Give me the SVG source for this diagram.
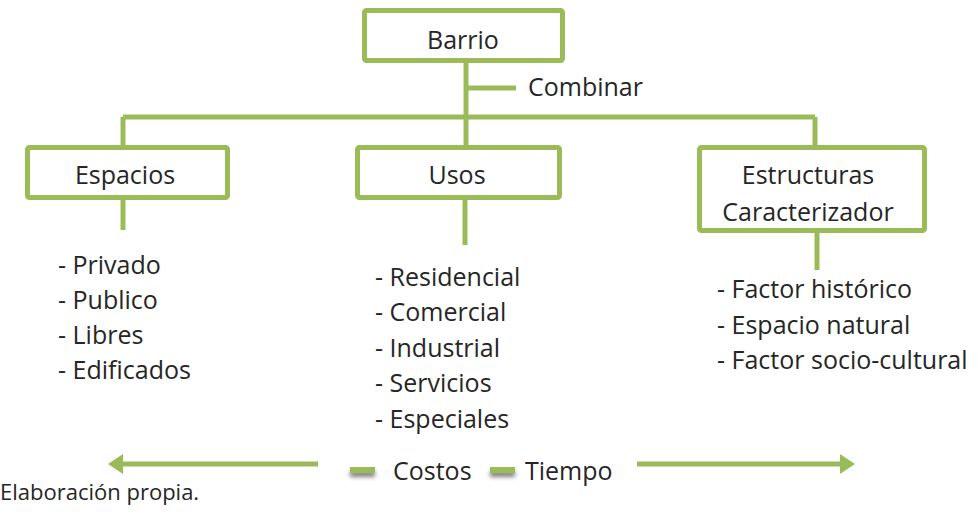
<svg xmlns="http://www.w3.org/2000/svg" width="978" height="524" viewBox="0 0 978 524">
<style>
.box{fill:#fff;stroke:#9BBB59;stroke-width:5}
.ln{stroke:#9BBB59;stroke-width:5;fill:none}
.t{font-family:"Open Sans","Liberation Sans",sans-serif;font-size:25px;fill:#262626}
.c{text-anchor:middle}
.s{font-family:"Open Sans","Liberation Sans",sans-serif;font-size:22px;fill:#262626}
.dash{fill:#9BBB59}
</style>
<defs>
<marker id="ah" markerWidth="4" markerHeight="4" refX="1" refY="2" orient="auto" markerUnits="strokeWidth">
<path d="M0,0 L3,2 L0,4 Z" fill="#9BBB59"/>
</marker>
<filter id="sh" x="-50%" y="-100%" width="200%" height="400%">
<feGaussianBlur in="SourceAlpha" stdDeviation="2"/>
<feOffset dy="4"/>
<feComponentTransfer><feFuncA type="linear" slope="0.5"/></feComponentTransfer>
<feMerge><feMergeNode/><feMergeNode in="SourceGraphic"/></feMerge>
</filter>
</defs>
<g id="connectors">
<path class="ln" d="M466,63 V117 M466,88 H516 M123,117 H815 M123,117 V145 M466,117 V145 M815,117 V145 M123,200 V230 M465,200 V245 M817,233 V270"/>
<path class="ln" d="M318,464 H118" marker-end="url(#ah)"/>
<path class="ln" d="M637,464 H845" marker-end="url(#ah)"/>
</g>
<g id="barrio"><rect class="box" x="364.5" y="10.5" width="198" height="50" rx="2"/><text class="t c" x="463" y="49">Barrio</text></g>
<text class="t" x="528" y="96">Combinar</text>
<g id="espacios"><rect class="box" x="27.5" y="147.5" width="200" height="50" rx="2"/><text class="t c" x="125" y="184">Espacios</text></g>
<g id="usos"><rect class="box" x="357.5" y="147.5" width="202" height="50" rx="2"/><text class="t c" x="457" y="184">Usos</text></g>
<g id="estructuras"><rect class="box" x="699.5" y="147.5" width="225" height="83" rx="2"/><text class="t c" x="808" y="184">Estructuras</text><text class="t c" x="808" y="221">Caracterizador</text></g>
<g id="espacios-list">
<text class="t" x="58" y="274">- Privado</text>
<text class="t" x="58" y="309">- Publico</text>
<text class="t" x="58" y="344">- Libres</text>
<text class="t" x="58" y="379">- Edificados</text>
</g>
<g id="usos-list">
<text class="t" x="375" y="286">- Residencial</text>
<text class="t" x="375" y="321">- Comercial</text>
<text class="t" x="375" y="357">- Industrial</text>
<text class="t" x="375" y="392">- Servicios</text>
<text class="t" x="375" y="428">- Especiales</text>
</g>
<g id="estructuras-list">
<text class="t" x="717" y="298">- Factor histórico</text>
<text class="t" x="717" y="334">- Espacio natural</text>
<text class="t" x="717" y="369">- Factor socio-cultural</text>
</g>
<g id="legend" filter="url(#sh)">
<rect class="dash" x="350" y="467" width="25" height="6"/>
<rect class="dash" x="490" y="467" width="25" height="6"/>
</g>
<text class="t" x="393" y="480">Costos</text>
<text class="t" x="525" y="480">Tiempo</text>
<text class="s" x="0" y="500">Elaboración propia.</text>
</svg>
